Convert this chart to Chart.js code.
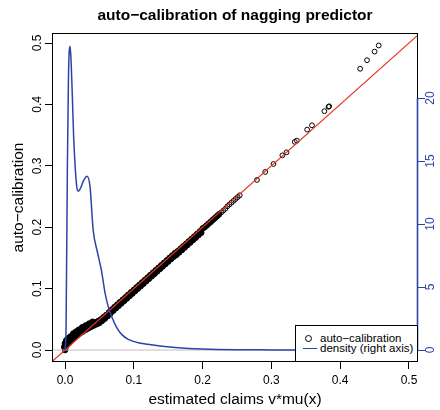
<!DOCTYPE html>
<html>
<head>
<meta charset="utf-8">
<style>
html,body{margin:0;padding:0;background:#fff;}
#wrap{position:relative;width:440px;height:410px;overflow:hidden;}
#c{position:absolute;left:0;top:0;}
#legend{position:absolute;left:295px;top:325px;width:123px;height:37px;box-sizing:border-box;border:1px solid #000;background:#fff;font-family:'Liberation Sans',Arial,Helvetica,sans-serif;font-size:11.5px;color:#000;}
#legend .row{position:absolute;left:0;height:12px;line-height:12px;width:100%;white-space:nowrap;}
#legend .txt{position:absolute;left:24px;top:0;}
#legend .pt{position:absolute;left:9px;top:3px;width:5px;height:5px;border:1px solid #000;border-radius:50%;}
#legend .ln{position:absolute;left:7px;top:5.5px;width:14px;height:0;border-top:1.5px solid #2b44a6;}
</style>
<script src="https://cdn.jsdelivr.net/npm/chart.js@4"></script>
</head>
<body>
<div id="wrap">
<canvas id="c" width="440" height="410"></canvas>
<div id="legend"></div>
</div>
<script>
// ---- data ----
// auto-calibration points: the dense band (read along the band, both edges) and the sparse tail
const calibX = [
0.000,0.000,0.000,-0.001,0.001,0.002,0.004,0.006,0.008,0.012,0.016,0.020,0.025,0.030,0.035,0.040,
0.000,0.002,0.004,0.006,0.008,0.010,0.012,0.014,0.016,0.018,
0.020,0.022,0.024,0.026,0.028,0.030,0.032,0.034,0.036,0.038,
0.040,0.042,0.044,0.046,0.048,0.050,0.052,0.054,0.056,0.058,
0.060,0.062,0.064,0.066,0.068,0.070,0.072,0.074,0.076,0.078,
0.080,0.082,0.084,0.086,0.088,0.090,0.092,0.094,0.096,0.098,
0.100,0.102,0.104,0.106,0.108,0.110,0.112,0.114,0.116,0.118,
0.120,0.122,0.124,0.126,0.128,0.130,0.132,0.134,0.136,0.138,
0.140,0.142,0.144,0.146,0.148,0.150,0.152,0.154,0.156,0.158,
0.160,0.162,0.164,0.166,0.168,0.170,0.172,0.174,0.176,0.178,
0.180,0.182,0.184,0.186,0.188,0.190,0.192,0.194,0.196,0.198,
0.200,0.203,0.206,0.209,0.212,0.215,0.218,0.221,0.224,0.227,
0.230,0.233,0.236,0.239,0.242,0.245,0.248,0.251,0.254,
0.279,0.291,0.303,0.316,0.322,0.334,0.337,0.352,0.359,0.377,0.383,0.384,0.429,0.439,0.450,0.456];
const calibY = [
0.000,0.003,0.011,0.005,0.012,0.016,0.018,0.020,0.022,0.027,0.030,0.033,0.037,0.040,0.043,0.046,
0.008,0.0066,0.013,0.0118,0.0184,0.017,0.0228,0.0206,0.0264,0.0242,
0.030,0.0274,0.0328,0.0302,0.0356,0.033,0.0382,0.0354,0.0406,0.0378,
0.043,0.040,0.045,0.042,0.047,0.044,0.0498,0.0476,0.0534,0.0512,
0.057,0.0552,0.0614,0.0596,0.0658,0.064,0.070,0.068,0.074,0.072,
0.078,0.076,0.082,0.080,0.086,0.084,0.090,0.088,0.094,0.092,
0.098,0.096,0.102,0.100,0.106,0.104,0.110,0.108,0.114,0.112,
0.118,0.116,0.122,0.120,0.126,0.124,0.130,0.128,0.134,0.132,
0.138,0.136,0.142,0.140,0.146,0.144,0.150,0.148,0.154,0.152,
0.158,0.155,0.161,0.159,0.165,0.163,0.169,0.167,0.173,0.171,
0.177,0.175,0.181,0.179,0.185,0.183,0.189,0.187,0.193,0.191,
0.198,0.200,0.203,0.206,0.209,0.212,0.215,0.218,0.221,0.224,
0.227,0.230,0.234,0.237,0.240,0.243,0.246,0.249,0.252,
0.277,0.290,0.303,0.317,0.322,0.339,0.341,0.359,0.366,0.389,0.396,0.397,0.458,0.472,0.486,0.496];

// density of the predictor (right axis)
const densX = [0.000,0.0015,0.0035,0.005,0.006,0.0073,0.0085,0.0107,0.0125,0.0145,0.017,0.0194,0.023,0.0266,0.032,0.0363,0.041,0.047,0.053,0.058,0.063,0.069,0.075,0.083,0.092,0.105,0.120,0.138,0.160,0.180,0.200,0.220,0.250,0.300,0.350,0.400,0.460];
const densY = [0,1.6,14.8,21.5,23.6,24.1,23.3,20.1,17.0,14.8,13.0,12.6,12.9,13.4,13.8,13.0,9.5,7.8,6.3,4.6,3.4,2.5,1.8,1.2,0.85,0.6,0.45,0.32,0.20,0.12,0.07,0.04,0.02,0.01,0.005,0.002,0.001];

// reference lines: identity (red) and zero (gray)
const identX = [-0.1, 0.6];
const identY = [-0.1, 0.6];
const zeroX = [-0.1, 0.6];
const zeroY = [0, 0];

const xTicks = [0, 0.1, 0.2, 0.3, 0.4, 0.5];
const xTickLabels = ['0.0','0.1','0.2','0.3','0.4','0.5'];
const yTicks = [0, 0.1, 0.2, 0.3, 0.4, 0.5];
const yTickLabels = ['0.0','0.1','0.2','0.3','0.4','0.5'];
const rightTicks = [0, 5, 10, 15, 20];
const rightTickLabels = ['0','5','10','15','20'];

const titleText = 'auto\u2212calibration of nagging predictor';
const xTitle = 'estimated claims v*mu(x)';
const yTitle = 'auto\u2212calibration';
const calibLabel = 'auto\u2212calibration';
const densLabel = 'density (right axis)';

// ---- styling ----
const FONT = "'Liberation Sans', Arial, Helvetica, sans-serif";
const BLUE = '#2b44a6';
const RED = '#e63323';
const X_MIN = -0.0189, X_MAX = 0.5131;
const Y_MIN = -0.0195, Y_MAX = 0.5163;
const Y2_MIN = -0.952, Y2_MAX = 25.16;
const DENSE_LIMIT = 0.225; // where overlapping circles merge into a solid band

const pts = (xs, ys) => xs.map((x, i) => ({x: x, y: ys[i]}));

const framePlugin = {
  id: 'frame',
  afterDatasetsDraw(chart) {
    const {ctx, chartArea: a, scales} = chart;
    ctx.save();
    ctx.strokeStyle = '#000';
    ctx.lineWidth = 1;
    ctx.strokeRect(a.left + 0.5, a.top + 0.5, a.right - a.left - 1, a.bottom - a.top - 1);
    const y2 = scales.y2;
    ctx.strokeStyle = BLUE;
    ctx.lineWidth = 1.6;
    ctx.beginPath();
    ctx.moveTo(a.right - 0.5, y2.getPixelForValue(rightTicks[0]));
    ctx.lineTo(a.right - 0.5, y2.getPixelForValue(rightTicks[rightTicks.length - 1]));
    ctx.stroke();
    ctx.restore();
  }
};

const tickFont = {family: FONT, size: 12};

const chart = new Chart(document.getElementById('c'), {
  type: 'scatter',
  data: {
    datasets: [
      {label: densLabel, data: pts(densX, densY), yAxisID: 'y2', showLine: true,
       borderColor: BLUE, borderWidth: 1.5, pointRadius: 0, cubicInterpolationMode: 'monotone', order: 1, legendKind: 'line'},
      {label: 'identity', data: pts(identX, identY), yAxisID: 'y', showLine: true,
       borderColor: RED, borderWidth: 1.2, pointRadius: 0, order: 2},
      {label: 'zero', data: pts(zeroX, zeroY), yAxisID: 'y', showLine: true,
       borderColor: '#bebebe', borderWidth: 1, pointRadius: 0, order: 3},
      {label: calibLabel, data: pts(calibX, calibY), yAxisID: 'y', showLine: false,
       pointStyle: 'circle', pointRadius: c => (c.raw && c.raw.x < DENSE_LIMIT ? 2.8 : 2.4), borderWidth: 1, borderColor: '#000',
       backgroundColor: c => (c.raw && c.raw.x < DENSE_LIMIT ? '#000' : 'rgba(0,0,0,0)'), order: 4, legendKind: 'point'}
    ]
  },
  options: {
    responsive: false,
    animation: false,
    devicePixelRatio: 1,
    events: [],
    layout: {padding: 0},
    plugins: {
      legend: {display: false},
      tooltip: {enabled: false},
      title: {display: true, text: titleText, fullSize: false, color: '#000',
              font: {family: FONT, size: 15.5, weight: 'bold'}, padding: {top: 6, bottom: 8.4}}
    },
    scales: {
      x: {
        type: 'linear', position: 'bottom', min: X_MIN, max: X_MAX,
        afterBuildTicks: s => { s.ticks = xTicks.map(v => ({value: v})); },
        afterFit: s => { s.height = 48; },
        ticks: {callback: (v, i) => xTickLabels[i], font: tickFont, color: '#000', padding: 4, maxRotation: 0, autoSkip: false},
        grid: {display: true, drawOnChartArea: false, drawTicks: true, tickLength: 7, tickColor: '#000', tickWidth: 1},
        border: {display: false},
        title: {display: true, text: xTitle, color: '#000', font: {family: FONT, size: 15.5}, padding: {top: 0, bottom: 1}}
      },
      y: {
        type: 'linear', position: 'left', min: Y_MIN, max: Y_MAX,
        afterBuildTicks: s => { s.ticks = yTicks.map(v => ({value: v})); },
        afterFit: s => { s.width = 52; },
        ticks: {callback: (v, i) => yTickLabels[i], font: tickFont, color: '#000', padding: -1,
                minRotation: 90, maxRotation: 90, crossAlign: 'center', autoSkip: false},
        grid: {display: true, drawOnChartArea: false, drawTicks: true, tickLength: 7, tickColor: '#000', tickWidth: 1},
        border: {display: false},
        title: {display: true, text: yTitle, color: '#000', font: {family: FONT, size: 15.5}, padding: {top: 9, bottom: 0}}
      },
      y2: {
        type: 'linear', position: 'right', min: Y2_MIN, max: Y2_MAX,
        afterBuildTicks: s => { s.ticks = rightTicks.map(v => ({value: v})); },
        afterFit: s => { s.width = 22; },
        ticks: {callback: (v, i) => rightTickLabels[i], font: tickFont, color: BLUE, padding: -1,
                minRotation: 90, maxRotation: 90, crossAlign: 'center', autoSkip: false},
        grid: {display: true, drawOnChartArea: false, drawTicks: true, tickLength: 7, tickColor: BLUE, tickWidth: 1},
        border: {display: false}
      }
    }
  },
  plugins: [framePlugin]
});

// HTML legend built from the chart's datasets
const legendEl = document.getElementById('legend');
const legendSets = chart.data.datasets.filter(d => d.legendKind).sort((a, b) => (a.legendKind === 'point' ? -1 : 1));
legendSets.forEach((d, i) => {
  const row = document.createElement('div');
  row.className = 'row';
  row.style.top = (6 + i * 10) + 'px';
  const sym = document.createElement('span');
  sym.className = d.legendKind === 'point' ? 'pt' : 'ln';
  const txt = document.createElement('span');
  txt.className = 'txt';
  txt.textContent = d.label;
  row.appendChild(sym);
  row.appendChild(txt);
  legendEl.appendChild(row);
});
</script>
</body>
</html>
